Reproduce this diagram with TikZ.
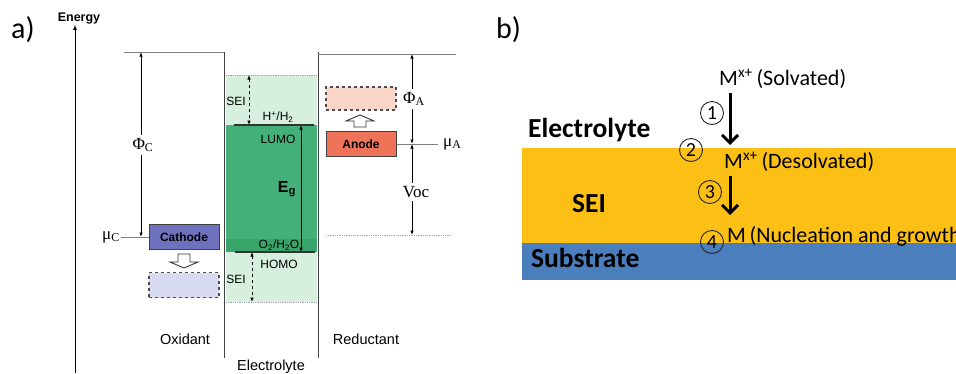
\documentclass[tikz,border=0pt]{standalone}
\usepackage{fontspec}
\setmainfont{Liberation Sans}
\newfontfamily\timesfont{Liberation Serif}
\newfontfamily\calibfont{Carlito}
\usetikzlibrary{arrows.meta,positioning}
\definecolor{gapgreen}{HTML}{44B079}
\definecolor{banddark}{HTML}{38A469}
\definecolor{seigreen}{HTML}{D6EFDF}
\definecolor{cathblue}{HTML}{6E72BE}
\definecolor{cathghost}{HTML}{D8DAF1}
\definecolor{anodered}{HTML}{EE7358}
\definecolor{anodeghost}{HTML}{FAD6C9}
\definecolor{seiyellow}{HTML}{FBBF16}
\definecolor{subblue}{HTML}{4B7EBD}

\begin{document}
\begin{tikzpicture}[x=1pt, y=-1pt,
  levelline/.style={draw=gray, line width=0.8pt},
  wall/.style={draw=black!75, line width=0.9pt},
  edge/.style={draw=black!80, line width=1.1pt},
  dotline/.style={draw=gray!70, line width=0.8pt, densely dotted},
  gaparrow/.style={{Latex[length=4.5pt,width=3.5pt]}-{Latex[length=4.5pt,width=3.5pt]}, line width=0.9pt},
  seiarrow/.style={gaparrow, dashed},
  electrode/.style={draw=black!75, line width=1pt, minimum width=70pt, minimum height=25pt,
    inner sep=0pt, font=\bfseries\fontsize{12}{14}\selectfont},
  ghostbox/.style={electrode, draw=black!70, line width=1.2pt, dashed},
  hollow/.style={draw=black!80, line width=0.9pt, fill=white},
  small/.style={font=\fontsize{12}{14}\selectfont, inner sep=0pt},
  side/.style={font=\fontsize{14.5}{17}\selectfont, inner sep=0pt},
  sym/.style={font=\timesfont\fontsize{17}{19}\selectfont, inner sep=1pt},
  panel/.style={font=\calibfont\fontsize{30}{34}\selectfont, inner sep=0pt},
  layerlabel/.style={font=\calibfont\bfseries\fontsize{27.5}{30}\selectfont, inner sep=0pt},
  species/.style={font=\calibfont\fontsize{22}{25}\selectfont, inner sep=0pt},
  stepnum/.style={draw=black!85, circle, line width=0.9pt, minimum size=23pt, inner sep=0pt,
    font=\calibfont\fontsize{20}{22}\selectfont},
  steparrow/.style={-{Straight Barb[length=8pt,width=16pt,line width=3pt]}, line width=3pt}]
\useasboundingbox (0,0) rectangle (956,373);

% ---- a) energy diagram
\node[panel, anchor=base west] (panela) at (11,38) {a)};
\node[font=\bfseries\fontsize{12.5}{14}\selectfont, inner sep=0pt] (energy) at (79,19) {Energy};
\coordinate (axisfoot) at (75,373);
\draw[-{Latex[length=5pt,width=4pt]}, line width=1pt] (axisfoot) -- (axisfoot |- energy.south);

% electrolyte window
\fill[seigreen] (226,75) rectangle (317,302);
\fill[gapgreen] (226,125) rectangle (317,252);
\fill[banddark] (226,239) rectangle (317,252);
\draw[dotline] (226,75) -- (317,75);
\draw[dotline] (226,302) -- (317,302);
\draw[wall] (224,52) -- (224,358);
\draw[wall] (318,52) -- (318,358);
\draw[levelline] (124,52) -- (224,52);
\draw[levelline] (318,54) -- (456,54);

\coordinate (lumoL) at (234,125);
\coordinate (lumoR) at (314,125);
\coordinate (homoL) at (235,252);
\coordinate (homoR) at (315,252);
\draw[edge] (lumoL) -- (lumoR);
\draw[edge] (homoL) -- (homoR);
\coordinate (eg) at (301,125);
\draw[gaparrow] (eg) -- (eg |- homoR);
\coordinate (seitop) at (249,75);
\draw[seiarrow] (seitop) -- (seitop |- lumoL);
\coordinate (seibot) at (252,302);
\draw[seiarrow] (seibot |- homoL) -- (seibot);

\node[small] (sei1) at (236,101) {SEI};
\node[small] (hplus) at (278,117) {H\textsuperscript{+}/H\textsubscript{2}};
\node[small] (lumo) at (278,139) {LUMO};
\node[font=\bfseries\fontsize{16}{18}\selectfont, inner sep=0pt] (eglabel) at (287,189) {E\textsubscript{g}};
\node[small] (otwo) at (279,245) {O\textsubscript{2}/H\textsubscript{2}O};
\node[small] (homo) at (279,264) {HOMO};
\node[small] (sei2) at (236,279) {SEI};

% cathode side
\node[electrode, fill=cathblue] (cath) at (184,237) {Cathode};
\node[ghostbox, fill=cathghost] (cathghost) at (184,285) {};
\draw[hollow] (178,254) -- ++(0,8) -- ++(-8,0) -- ++(14,6) -- ++(14,-6) -- ++(-8,0) -- ++(0,-8) -- cycle;
\coordinate (muC) at (121,237);
\draw[levelline] (muC) -- (cath.west);
\node[sym, anchor=east] (muClabel) at (muC) {μ\textsubscript{C}};
\coordinate (phiCtop) at (141,52);
\draw[gaparrow] (phiCtop) -- (phiCtop |- cath.west);
\node[sym, fill=white, inner sep=3pt] (phiC) at (143,145) {Φ\textsubscript{C}};
\node[side] (oxid) at (185,339) {Oxidant};
\node[side] (elyte) at (271,367) {Electrolyte};

% anode side
\node[electrode, fill=anodered] (anode) at (361,144) {Anode};
\node[ghostbox, fill=anodeghost, minimum height=23pt] (anodeghost) at (361,98.5) {};
\draw[hollow] (354,127) -- ++(0,-6) -- ++(-8,0) -- ++(14,-6) -- ++(14,6) -- ++(-8,0) -- ++(0,6) -- cycle;
\coordinate (muA) at (438,144);
\draw[levelline] (anode.east) -- (muA);
\node[sym, anchor=west] (muAlabel) at ([xshift=4pt]muA) {μ\textsubscript{A}};
\coordinate (phiAtop) at (412,54);
\coordinate (vocbot) at (412,235);
\draw[dotline] (326,235) -- (451,235);
\draw[gaparrow] (phiAtop) -- (phiAtop |- anode.east);
\draw[gaparrow] (phiAtop |- anode.east) -- (vocbot);
\node[sym, fill=white, inner sep=3pt] (phiA) at (414,99) {Φ\textsubscript{A}};
\node[sym, fill=white, inner sep=3pt] (voc) at (416,192) {Voc};
\node[side] (reduct) at (366,339) {Reductant};

% ---- b) deposition through the SEI
\node[panel, anchor=base west] (panelb) at (496,38) {b)};
\fill[seiyellow] (522,148) rectangle (956,243);
\fill[subblue] (522,243) rectangle (956,280);
\node[layerlabel, anchor=base west] (eltlabel) at (528,137) {Electrolyte};
\node[layerlabel, anchor=base west] (seilabel) at (572,212) {SEI};
\node[layerlabel, anchor=base west] (sublabel) at (531,267) {Substrate};

\node[species, anchor=base west] (solv) at (719,85) {M\textsuperscript{x+}\,(Solvated)};
\node[species, anchor=base west] (desolv) at (724,168) {M\textsuperscript{x+}\,(Desolvated)};
\node[species, anchor=base west] (nucl) at (727,242) {M\,(Nucleation and growth)};
\coordinate (onetop) at (730,93);
\coordinate (onebot) at (730,145);
\draw[steparrow] (onetop) -- (onebot);
\coordinate (threetop) at (730,176);
\coordinate (threebot) at (730,215);
\draw[steparrow] (threetop) -- (threebot);
\node[stepnum] (n1) at (712,113) {1};
\node[stepnum] (n2) at (691,150) {2};
\node[stepnum] (n3) at (710,192) {3};
\node[stepnum] (n4) at (712,242) {4};
\end{tikzpicture}
\end{document}
